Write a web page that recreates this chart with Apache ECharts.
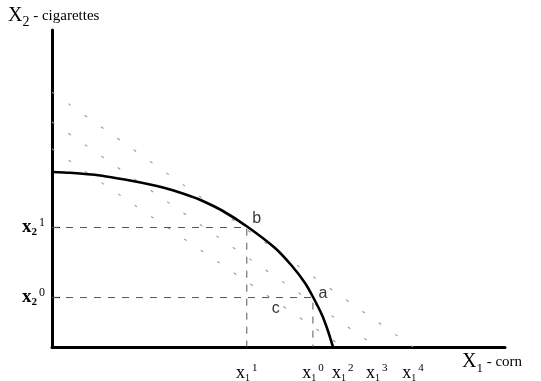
<!DOCTYPE html>
<html>
<head>
<meta charset="utf-8">
<script src="https://cdn.jsdelivr.net/npm/echarts@6/dist/echarts.min.js"></script>
<style>html,body{margin:0;padding:0;background:#fff}#c{width:541px;height:381px}</style>
</head>
<body>
<div id="c"></div>
<script>
// Production possibility frontier (x1 = corn, x2 = cigarettes)
var curveX = [0, 3.97, 10.60, 17.22, 21.63, 26.05, 30.46, 32.67, 37.53, 43.05, 49.23, 52.98, 55.85, 57.62, 59.60, 60.93, 62.03];
var curveY = [55.2, 54.95, 54.10, 52.52, 51.26, 49.68, 47.63, 46.44, 43.06, 38.01, 31.23, 25.55, 20.19, 15.77, 10.09, 5.05, 0];
// points b and a, c
var pointB = [43.0, 37.7];
var pointA = [57.6, 15.6];
var pointC = [49.4, 15.6];
// faint price lines: [y-intercept, x-intercept]
var priceLines = [[80.4, 79.7], [71.0, 71.7], [62.5, 64.2]];
// tick labels
var xTickValues = [43.0, 57.6, 64.2, 71.7, 79.7];
var xTickSup = ['1', '0', '2', '3', '4'];
var yTickValues = [15.6, 37.7];
var yTickSup = ['0', '1'];

var serif = '"Liberation Serif", "DejaVu Serif", serif';
var rich = {
  b: {fontFamily: serif, fontSize: 18, color: '#000', lineHeight: 24, verticalAlign: 'middle'},
  sub: {fontFamily: serif, fontSize: 10, color: '#000', lineHeight: 24, verticalAlign: 'bottom', padding: [0, 0, 2, 0]},
  sup: {fontFamily: serif, fontSize: 11, color: '#000', lineHeight: 24, verticalAlign: 'top', padding: [2, 0, 0, 2]}
};

var series = [];
series.push({
  type: 'line', smooth: 0.2, symbol: 'none', z: 5,
  data: curveX.map(function (x, i) { return [x, curveY[i]]; }),
  lineStyle: {color: '#000', width: 2.6}
});
[pointB, pointA].forEach(function (p) {
  series.push({
    type: 'line', symbol: 'none', z: 3,
    data: [[0, p[1]], [p[0], p[1]], [p[0], 0]],
    lineStyle: {color: '#555', width: 1, type: [7, 7]}
  });
});
priceLines.forEach(function (l) {
  series.push({
    type: 'line', symbol: 'none', z: 2,
    data: [[0, l[0]], [l[1], 0]],
    lineStyle: {color: '#999', width: 1.1, type: [3, 17]}
  });
});
series.push({
  type: 'scatter', symbolSize: 1, clip: false, z: 6,
  itemStyle: {color: 'rgba(0,0,0,0)'},
  data: [
    {value: pointB, label: {formatter: 'b', offset: [10, -9]}},
    {value: pointA, label: {formatter: 'a', offset: [10, -4]}},
    {value: pointC, label: {formatter: 'c', offset: [0, 11]}}
  ],
  label: {show: true, position: 'inside', fontFamily: '"Liberation Sans", Arial, sans-serif', fontSize: 16, color: '#000'}
});

var option = {
  animation: false,
  grid: {left: 52, right: 36, top: 30, bottom: 34, outerBoundsMode: 'none', containLabel: false},
  xAxis: {
    type: 'value', min: 0, max: 100,
    splitLine: {show: false},
    axisLine: {onZero: false, lineStyle: {color: '#000', width: 3}},
    axisTick: {show: false},
    axisLabel: {
      customValues: xTickValues, margin: 14,
      formatter: function (v) {
        var i = xTickValues.indexOf(v);
        return '{b|x}{sub|1}{sup|' + (i >= 0 ? xTickSup[i] : '') + '}';
      },
      rich: rich
    }
  },
  yAxis: {
    type: 'value', min: 0, max: 100,
    splitLine: {show: false},
    axisLine: {onZero: false, lineStyle: {color: '#000', width: 3}},
    axisTick: {show: true, customValues: yTickValues, inside: true, length: 8, lineStyle: {color: '#000', width: 1.2}},
    axisLabel: {
      customValues: yTickValues, margin: 7,
      formatter: function (v) {
        var i = yTickValues.indexOf(v);
        return '{b|x}{sub|2}{sup|' + (i >= 0 ? yTickSup[i] : '') + '}';
      },
      rich: {
        b: {fontFamily: serif, fontSize: 19, fontWeight: 'bold', color: '#000', lineHeight: 24, verticalAlign: 'middle'},
        sub: {fontFamily: serif, fontSize: 11, fontWeight: 'bold', color: '#000', lineHeight: 24, verticalAlign: 'bottom', padding: [0, 0, 2, 0]},
        sup: {fontFamily: serif, fontSize: 12, color: '#000', lineHeight: 24, verticalAlign: 'top', padding: [1, 0, 0, 2]}
      }
    }
  },
  graphic: [
    {type: 'text', left: 8, top: 6, style: {
      text: '{X|X}{s|2}{t| - cigarettes}',
      rich: {
        X: {fontFamily: serif, fontSize: 20, color: '#000', lineHeight: 26, verticalAlign: 'middle'},
        s: {fontFamily: serif, fontSize: 14, color: '#000', lineHeight: 26, verticalAlign: 'bottom'},
        t: {fontFamily: serif, fontSize: 15, color: '#000', lineHeight: 26, verticalAlign: 'middle'}
      }
    }},
    {type: 'text', left: 462, top: 352, style: {
      text: '{X|X}{s|1}{t| - corn}',
      rich: {
        X: {fontFamily: serif, fontSize: 20, color: '#000', lineHeight: 26, verticalAlign: 'middle'},
        s: {fontFamily: serif, fontSize: 13, color: '#000', lineHeight: 26, verticalAlign: 'bottom'},
        t: {fontFamily: serif, fontSize: 15, color: '#000', lineHeight: 26, verticalAlign: 'middle'}
      }
    }}
  ],
  series: series
};
var chart = echarts.init(document.getElementById('c'), null, {renderer: 'canvas'});
chart.setOption(option);
</script>
</body>
</html>
